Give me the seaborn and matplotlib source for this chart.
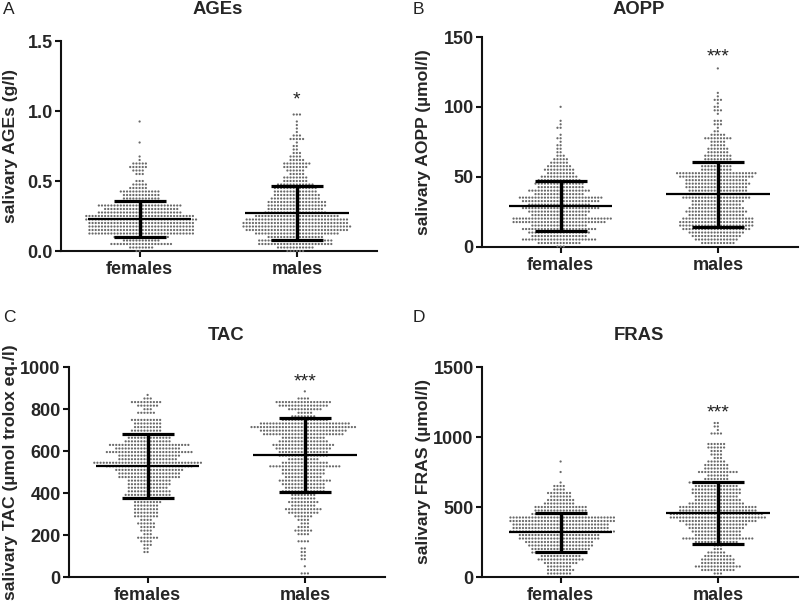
import numpy as np
import pandas as pd
import matplotlib
matplotlib.use("Agg")
import matplotlib.pyplot as plt
import seaborn as sns

sns.set_style("ticks")
plt.rcParams['font.family'] = ['Liberation Sans', 'DejaVu Sans']

groups = ["females", "males"]

# dots per row, bottom row first (GraphPad bins the dots into rows)
ages_step = 0.025
ages_f = [2, 8, 20, 12, 18, 34, 34, 34, 34, 36, 35, 27, 24, 27, 14, 12, 12, 13, 6, 5, 3, 0, 3, 4, 6, 5, 1, 1,
          0, 0, 0, 1, 0, 0, 0, 0, 0, 1]
ages_m = [6, 12, 24, 24, 18, 27, 33, 35, 34, 33, 27, 20, 18, 19, 19, 16, 15, 14, 14, 12, 8, 8, 5, 6, 8, 9, 5, 4,
          3, 2, 2, 1, 5, 3, 1, 1, 1, 1, 0, 3]

aopp_step = 2.5
aopp_f = [3, 14, 24, 18, 20, 24, 18, 30, 32, 18, 20, 25, 20, 25, 27, 16, 20, 15, 16, 14, 12, 9, 10, 8, 6, 5, 3, 2,
          2, 2, 1, 2, 1, 0, 2, 1, 1, 0, 0, 0, 1]
aopp_m = [0, 11, 14, 16, 18, 22, 24, 24, 23, 18, 20, 18, 16, 17, 22, 20, 19, 20, 21, 20, 24, 26, 10, 10, 10, 9, 9,
          7, 7, 5, 5, 9, 5, 2, 1, 3, 3, 0, 1, 3, 2, 1, 3, 1, 1, 0, 0, 0, 0, 0, 0, 1]

tac_step = 17
tac_f = [0, 0, 0, 0, 0, 0, 0, 2, 2, 3, 4, 7, 3, 4, 5, 6, 4, 8, 8, 8, 8, 9, 8, 15, 14, 13, 14, 14, 20, 20, 22,
         28, 35, 19, 20, 28, 21, 26, 15, 14, 12, 10, 9, 9, 10, 0, 6, 3, 7, 10, 3, 1]
tac_m = [0, 3, 0, 1, 0, 2, 2, 2, 2, 0, 4, 0, 4, 6, 4, 3, 4, 6, 10, 12, 8, 10, 8, 8, 14, 13, 14, 17, 12, 14, 14,
         23, 15, 10, 16, 16, 18, 20, 16, 14, 26, 28, 34, 29, 15, 8, 5, 11, 16, 18, 4, 0, 1]

fras_step = 25
fras_f = [0, 8, 9, 8, 11, 15, 13, 18, 19, 21, 22, 26, 26, 34, 31, 31, 34, 34, 18, 17, 17, 10, 9, 7, 8, 4, 4, 1,
          0, 0, 1, 0, 0, 1]
fras_m = [0, 3, 11, 15, 11, 11, 9, 6, 3, 3, 14, 23, 15, 16, 18, 20, 25, 31, 30, 25, 25, 18, 15, 14, 16, 16, 14,
          18, 8, 7, 13, 8, 8, 6, 3, 4, 4, 6, 6, 0, 0, 4, 1, 2, 2]

# mean, mean-SD, mean+SD for females and males
ages_stats = [[0.23, 0.10, 0.36], [0.27, 0.08, 0.465]]
aopp_stats = [[29, 11.2, 46.8], [37.5, 13.8, 60.8]]
tac_stats = [[529, 378, 679], [580, 407, 755]]
fras_stats = [[320, 181, 458], [458, 236, 680]]

W, H = 800, 603
fig = plt.figure(figsize=(W / 100, H / 100), dpi=100)


def panel(box, letter, letter_xy, title, title_y, ylabel, label_x, step, counts_f, counts_m, stats, yticks, ticklabels,
          stars, star_y):
    # box is left, top, right, bottom in pixels
    left, top, right, bottom = box
    ax = fig.add_axes([left / W, 1 - bottom / H, (right - left) / W, (bottom - top) / H])

    rows = []
    for g, counts in zip(groups, [counts_f, counts_m]):
        values = np.repeat(np.arange(len(counts)) * step, counts)
        rows.append(pd.DataFrame({"group": g, "value": values}))
    df = pd.concat(rows)

    # the invisible edge keeps a small gap between the dots
    sns.swarmplot(data=df, x="group", y="value", order=groups, ax=ax, color="#6a6a6a", size=1.6, linewidth=0.55,
                  edgecolor="none", clip_on=False, warn_thresh=1)

    for i, (m, lo, hi) in enumerate(stats):
        ax.hlines(m, i - 0.33, i + 0.33, color="black", lw=1.6, zorder=5)
        ax.hlines([lo, hi], i - 0.165, i + 0.165, color="black", lw=2.3, zorder=5)
        ax.vlines(i, lo, hi, color="black", lw=2.4, zorder=5)

    ax.text(1, star_y, stars, ha="center", va="center", fontsize=14, color="#222222")

    ax.set_xlim(-0.5, 1.51)
    ax.set_ylim(yticks[0], yticks[-1])
    ax.set_yticks(yticks)
    ax.set_yticklabels(ticklabels, fontsize=13, fontweight="bold")
    ax.set_xticks([0, 1])
    ax.set_xticklabels(groups, fontsize=13, fontweight="bold")
    ax.set_xlabel("")
    ax.set_ylabel("")
    ax.tick_params(width=1.5, length=4.5, pad=1.5, color="#111111")
    ax.tick_params(axis="x", pad=3)
    sns.despine(ax=ax)
    for s in ["left", "bottom"]:
        ax.spines[s].set_linewidth(1.5)
        ax.spines[s].set_color("#111111")
    ax.patch.set_alpha(0)

    fig.text(letter_xy[0] / W, 1 - letter_xy[1] / H, letter, fontsize=12.5, ha="left", va="center", color="#222222")
    fig.text((left + right - 2) / 2 / W, 1 - title_y / H, title, fontsize=13.3, fontweight="bold", ha="center",
             va="center")
    fig.text(label_x / W, 1 - (top + bottom) / 2 / H, ylabel, fontsize=12.6, fontweight="bold", rotation=90,
             ha="center", va="center")


panel((61, 41, 377, 251), "A", (3, 10), "AGEs", 10, "salivary AGEs (g/l)", 11, ages_step, ages_f, ages_m, ages_stats,
      [0, 0.5, 1.0, 1.5], ["0.0", "0.5", "1.0", "1.5"], "*", 1.08)
panel((482, 37, 798, 246.5), "B", (413, 10), "AOPP", 10, "salivary AOPP (\u00b5mol/l)", 423, aopp_step, aopp_f, aopp_m,
      aopp_stats, [0, 50, 100, 150], ["0", "50", "100", "150"], "***", 136)
panel((69, 367, 385, 577), "C", (3, 318), "TAC", 335, "salivary TAC (\u00b5mol trolox eq./l)", 11, tac_step, tac_f,
      tac_m, tac_stats, [0, 200, 400, 600, 800, 1000], ["0", "200", "400", "600", "800", "1000"], "***", 928)
panel((482, 367, 798, 577), "D", (413, 318), "FRAS", 335, "salivary FRAS (\u00b5mol/l)", 423, fras_step, fras_f, fras_m,
      fras_stats, [0, 500, 1000, 1500], ["0", "500", "1000", "1500"], "***", 1175)

fig.savefig("out.png", dpi=100)
